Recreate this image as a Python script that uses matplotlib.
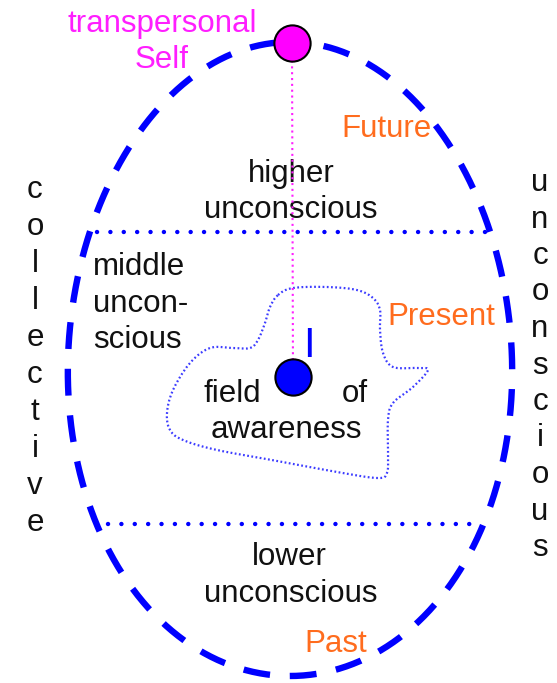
import numpy as np
import matplotlib.pyplot as plt

plt.rcParams['font.family'] = ['Liberation Sans', 'DejaVu Sans']

# texts of the diagram
self_label = ['transpersonal', 'Self']
higher_label = ['higher', 'unconscious']
middle_label = ['middle', 'uncon-', 'scious']
field_label = ['field', 'of', 'awareness']
lower_label = ['lower', 'unconscious']
time_labels = ['Future', 'Present', 'Past']
left_word = 'collective'
right_word = 'unconscious'
ego_label = 'I'

# outline of the field of awareness (picture pixels)
blob_x = [278, 293, 327, 357, 373, 380, 380, 383, 393, 417, 428, 413, 393, 388,
          388, 387, 377, 337, 283, 217, 183, 170, 167, 173, 190, 210, 233, 250,
          258, 265, 270]
blob_y = [295, 288, 287, 290, 298, 310, 330, 353, 367, 368, 370, 387, 403, 420,
          453, 473, 478, 472, 462, 450, 440, 430, 413, 390, 363, 348, 348, 348,
          340, 323, 307]

# egg (centre, half axes) and the two level lines
egg_c = (290, 359)
egg_ab = (222, 317)
upper_line = (97, 485, 232)
lower_line = (108, 470, 524)
self_pos = (292, 43)
ego_pos = (293, 377)

BLUE = '#0000ff'
MAGENTA = '#ff1eff'
ORANGE = '#ff6c1e'
FS = 22.5


def smooth_closed(xs, ys, n=10):
    # catmull-rom through the outline points
    p = np.column_stack([xs, ys]).astype(float)
    out = []
    m = len(p)
    for i in range(m):
        p0, p1, p2, p3 = p[i - 1], p[i], p[(i + 1) % m], p[(i + 2) % m]
        for t in np.linspace(0, 1, n, endpoint=False):
            out.append(0.5 * (2 * p1 + (-p0 + p2) * t
                              + (2 * p0 - 5 * p1 + 4 * p2 - p3) * t ** 2
                              + (-p0 + 3 * p1 - 3 * p2 + p3) * t ** 3))
    out.append(out[0])
    out = np.array(out)
    return out[:, 0], out[:, 1]


fig = plt.figure(figsize=(5.57, 6.83), dpi=100)
ax = fig.add_axes([0, 0, 1, 1])
ax.set_xlim(0, 557)
ax.set_ylim(683, 0)
ax.axis('off')

# egg
t = np.linspace(-np.pi / 2, 1.5 * np.pi, 600)
ex = egg_c[0] + egg_ab[0] * np.cos(t) * (1 + 0.04 * np.sin(t))
ey = egg_c[1] + egg_ab[1] * np.sin(t)
ax.plot(ex, ey, color=BLUE, lw=4.6, linestyle=(2.0, (4.2, 3.1)),
        dash_capstyle='butt', zorder=2)

# level lines
for x0, x1, y in [upper_line, lower_line]:
    ax.plot([x0, x1], [y, y], color=BLUE, lw=3.2, linestyle=(0, (0.01, 3.0)),
            dash_capstyle='round', zorder=2)

# field of awareness
bx, by = smooth_closed(blob_x, blob_y)
ax.plot(bx, by, color='#3c3cff', lw=1.6, linestyle=(0, (0.8, 1.1)), zorder=2)

# texts
kw = dict(fontsize=FS, va='baseline', zorder=3)
ax.text(162, 32, self_label[0], color=MAGENTA, ha='center', **kw)
ax.text(162, 68, self_label[1], color=MAGENTA, ha='center', **kw)
ax.text(291, 182, higher_label[0], color='#111111', ha='center', **kw)
ax.text(291, 218, higher_label[1], color='#111111', ha='center', **kw)
for i, s in enumerate(middle_label):
    ax.text(93, 275 + 36.5 * i, s, color='#111111', ha='left', **kw)
ax.text(203, 402, field_label[0], color='#111111', ha='left', **kw)
ax.text(368, 402, field_label[1], color='#111111', ha='right', **kw)
ax.text(286, 438, field_label[2], color='#111111', ha='center', **kw)
ax.text(289, 565, lower_label[0], color='#111111', ha='center', **kw)
ax.text(291, 602, lower_label[1], color='#111111', ha='center', **kw)
for s, x, y in zip(time_labels, [386, 441, 336], [137, 325, 652]):
    ax.text(x, y, s, color=ORANGE, ha='center', **kw)

for i, ch in enumerate(left_word):
    ax.text(35, 198 + 37 * i, ch, color='#111111', ha='center', **kw)
for i, ch in enumerate(right_word):
    ax.text(540, 191 + 36.5 * i, ch, color='#111111', ha='center', **kw)

ax.text(309, 357, ego_label, color=BLUE, ha='center', va='baseline',
        fontsize=30, zorder=3)

# self -> I link and the two points
ax.plot([self_pos[0], ego_pos[0]], [self_pos[1], ego_pos[1]], color=MAGENTA,
        lw=1.5, linestyle=(0, (1, 1.8)), zorder=4)
ax.scatter([self_pos[0]], [self_pos[1]], s=680, color='#ff00ff',
           edgecolors='black', linewidths=1.5, zorder=5)
ax.scatter([ego_pos[0]], [ego_pos[1]], s=680, color=BLUE,
           edgecolors='black', linewidths=1.5, zorder=5)

fig.savefig('out.png', dpi=100)
